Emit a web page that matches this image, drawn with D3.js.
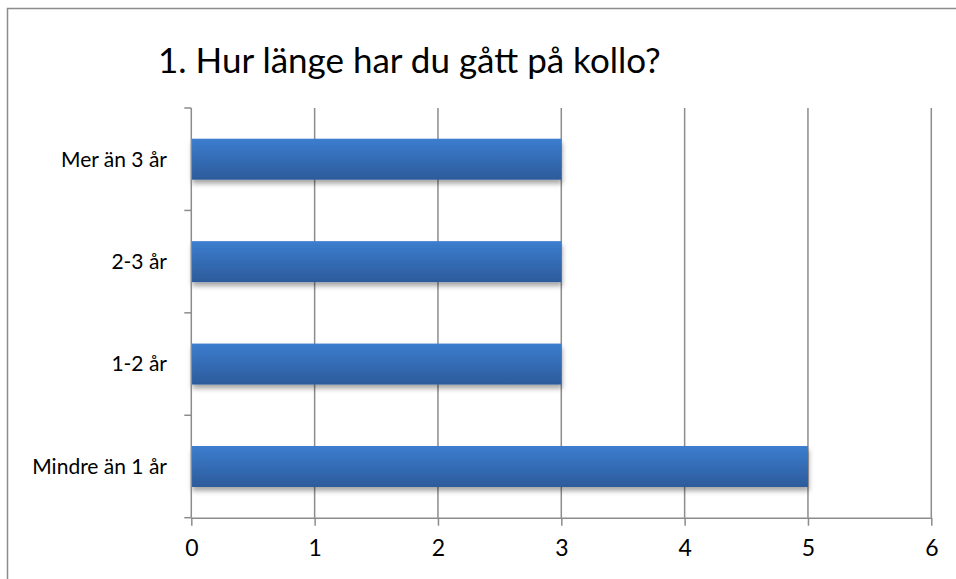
<!DOCTYPE html>
<html>
<head>
<meta charset="utf-8">
<script src="https://cdn.jsdelivr.net/npm/d3@7"></script>
<style>
  body { margin: 0; background: #fff; }
  svg { display: block; }
</style>
</head>
<body>
<svg width="956" height="579"></svg>
<script>
const categories = ["Mer än 3 år", "2-3 år", "1-2 år", "Mindre än 1 år"];
const values = [3, 3, 3, 5];
const xTicks = [0, 1, 2, 3, 4, 5, 6];
const title = "1. Hur länge har du gått på kollo?";

const svg = d3.select("svg");
const font = "Lato, 'Open Sans', sans-serif";
const gray = "#8c8c8c";

const plotLeft = 191.3, plotRight = 931.3, plotTop = 108, plotBottom = 517.7;

// chart frame, right and bottom edges run off the picture
svg.append("rect")
  .attr("x", 7.5).attr("y", 8.5)
  .attr("width", 952).attr("height", 620)
  .attr("fill", "#fff")
  .attr("stroke", gray)
  .attr("stroke-width", 1.5);

const defs = svg.append("defs");
const grad = defs.append("linearGradient")
  .attr("id", "barGrad")
  .attr("x1", 0).attr("y1", 0).attr("x2", 0).attr("y2", 1);
grad.append("stop").attr("offset", "0%").attr("stop-color", "#3c7dcf");
grad.append("stop").attr("offset", "100%").attr("stop-color", "#2c5b9b");

const shadow = defs.append("filter")
  .attr("id", "shadow")
  .attr("x", "-5%").attr("y", "-30%")
  .attr("width", "115%").attr("height", "180%");
shadow.append("feDropShadow")
  .attr("dx", 1).attr("dy", 4)
  .attr("stdDeviation", 2.5)
  .attr("flood-color", "#000")
  .attr("flood-opacity", 0.35);

const x = d3.scaleLinear().domain([0, 6]).range([plotLeft, plotRight]);
const y = d3.scaleBand()
  .domain(categories)
  .range([plotTop, plotBottom])
  .paddingInner(0.6)
  .paddingOuter(0.3);

// vertical gridlines
svg.append("g")
  .selectAll("line")
  .data(xTicks.slice(1))
  .enter()
  .append("line")
  .attr("x1", d => x(d)).attr("x2", d => x(d))
  .attr("y1", plotTop).attr("y2", plotBottom)
  .attr("stroke", gray)
  .attr("stroke-width", 1.5);

// bars
svg.append("g")
  .selectAll("rect")
  .data(categories)
  .enter()
  .append("rect")
  .attr("x", x(0))
  .attr("y", d => y(d))
  .attr("width", (d, i) => x(values[i]) - x(0))
  .attr("height", y.bandwidth())
  .attr("fill", "url(#barGrad)")
  .attr("filter", "url(#shadow)");

// x axis
const xAxis = svg.append("g")
  .attr("transform", `translate(0,${plotBottom})`)
  .call(d3.axisBottom(x).tickValues(xTicks).tickFormat(d3.format("d")).tickSizeInner(8).tickSizeOuter(0).tickPadding(14));
xAxis.select(".domain").attr("stroke", gray).attr("stroke-width", 1.5);
xAxis.selectAll(".tick line").attr("stroke", gray).attr("stroke-width", 1.5);
xAxis.selectAll("text")
  .attr("font-family", font)
  .attr("font-size", 23)
  .attr("fill", "#000");

// y axis: ticks sit on the band boundaries
const edges = categories.map(c => y(c) - y.step() * y.paddingInner() / 2)
  .concat([plotBottom]);
svg.append("line")
  .attr("x1", plotLeft).attr("x2", plotLeft)
  .attr("y1", plotTop).attr("y2", plotBottom)
  .attr("stroke", gray).attr("stroke-width", 1.5);
svg.append("g")
  .selectAll("line")
  .data(edges)
  .enter()
  .append("line")
  .attr("x1", plotLeft - 7).attr("x2", plotLeft)
  .attr("y1", d => d).attr("y2", d => d)
  .attr("stroke", gray).attr("stroke-width", 1.5);

svg.append("g")
  .selectAll("text")
  .data(categories)
  .enter()
  .append("text")
  .attr("x", 167)
  .attr("y", d => y(d) + y.bandwidth() / 2)
  .attr("dy", "0.35em")
  .attr("text-anchor", "end")
  .attr("font-family", font)
  .attr("font-size", 21)
  .attr("fill", "#000")
  .text(d => d);

svg.append("text")
  .attr("x", 158)
  .attr("y", 73)
  .attr("font-family", font)
  .attr("font-size", 35)
  .attr("fill", "#000")
  .text(title);
</script>
</body>
</html>
